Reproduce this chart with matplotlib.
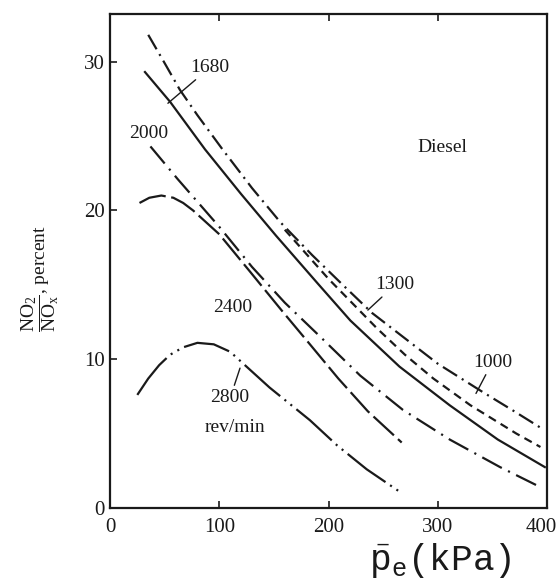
import matplotlib
matplotlib.use("Agg")
from matplotlib import pyplot as plt
from matplotlib import transforms

plt.rcParams['font.family'] = ['Liberation Serif', 'DejaVu Serif']
plt.rcParams['mathtext.fontset'] = 'custom'
plt.rcParams['mathtext.rm'] = 'Liberation Serif'
plt.rcParams['mathtext.tt'] = 'Liberation Mono'
plt.rcParams['lines.scale_dashes'] = False

# curves: load (kPa) vs NO2/NOx (percent)
x_1000 = [35, 50, 64, 80, 103, 130, 156, 185, 213, 240, 270, 300, 341, 370, 394]
y_1000 = [31.8, 29.9, 28.1, 26.4, 24.1, 21.5, 19.2, 17.0, 15.0, 13.1, 11.4, 9.7, 7.8, 6.5, 5.4]

x_1300 = [160, 200, 244, 270, 296, 330, 372, 394]
y_1300 = [18.7, 15.4, 12.1, 10.3, 8.7, 6.9, 5.0, 4.1]

x_1680 = [32, 55, 87, 120, 152, 190, 220, 265, 311, 355, 398]
y_1680 = [29.3, 27.3, 24.1, 21.1, 18.3, 15.1, 12.6, 9.5, 6.9, 4.6, 2.75]

x_2000 = [37, 62, 100, 130, 160, 194, 229, 268, 311, 357, 394]
y_2000 = [24.3, 22.1, 18.9, 16.2, 13.8, 11.4, 8.9, 6.6, 4.6, 2.75, 1.4]

x_2400 = [27, 36, 47, 58, 67, 76, 100, 128, 158, 183, 209, 236, 267]
y_2400 = [20.5, 20.85, 21.0, 20.85, 20.5, 20.0, 18.4, 15.9, 13.2, 11.0, 8.7, 6.5, 4.4]

x_2800 = [25, 35, 45, 55, 67, 80, 95, 110, 122, 146, 183, 208, 235, 267]
y_2800 = [7.6, 8.7, 9.6, 10.3, 10.8, 11.1, 11.0, 10.5, 9.7, 8.1, 5.9, 4.2, 2.6, 1.0]

# labels: text, text position, point the leader goes to (None = no leader)
labels = ['1680', '2000', '2400', '2800', 'rev/min', '1300', '1000', 'Diesel']
label_pos = [(91.5, 29.6), (35.7, 25.2), (112.6, 13.5), (110, 7.4),
             (114.4, 5.4), (261, 15.0), (350, 9.8), (304, 24.2)]
label_tip = [(53, 27.2), None, None, (119, 9.4), None, (236, 13.3), (335, 7.7), None]

ink = '#1a1a1a'

fig = plt.figure(figsize=(5.59, 5.88), dpi=100)
ax = fig.add_axes([110/559, 80/588, 437/559, 494/588])

ax.plot(x_1000, y_1000, color=ink, lw=1.6, dashes=(12, 4, 1.5, 4))
ax.plot(x_1300, y_1300, color=ink, lw=1.6, dashes=(6, 4))
ax.plot(x_1680, y_1680, color=ink, lw=1.6)
ax.plot(x_2000, y_2000, color=ink, lw=1.6, dashes=(16, 5, 1.5, 5))
ax.plot(x_2400, y_2400, color=ink, lw=1.6, dashes=(20, 4))
ax.plot(x_2800, y_2800, color=ink, lw=1.6, dashes=(34, 4, 1.5, 4, 1.5, 4))

for txt, pos, tip in zip(labels, label_pos, label_tip):
    if tip is None:
        ax.text(pos[0], pos[1], txt, fontsize=14, ha='center', va='center', color=ink)
    else:
        ax.annotate(txt, xy=tip, xytext=pos, fontsize=14, ha='center', va='center',
                    color=ink, arrowprops=dict(arrowstyle='-', color=ink, lw=1.0,
                                               shrinkA=1, shrinkB=0))

ax.set_xlim(0, 400)
ax.set_ylim(0, 33.2)
ax.set_xticks([0, 100, 200, 300, 400])
ax.set_yticks([0, 10, 20, 30])
ax.tick_params(direction='in', top=True, right=False, length=5, width=1.2,
               labelsize=15, colors=ink)
ax.tick_params(axis='x', pad=7)
ax.tick_params(axis='y', pad=4)
for sp in ax.spines.values():
    sp.set_linewidth(1.6)
    sp.set_color(ink)

# last x label sits at the figure edge, nudge it in a little
last = ax.get_xticklabels()[-1]
last.set_transform(last.get_transform() + transforms.ScaledTranslation(-6/100, 0, fig.dpi_scale_trans))

fig.text(40/559, 1 - 278/588, r'$\dfrac{\mathrm{NO_2}}{\mathrm{NO_x}}$, percent',
         rotation=90, ha='center', va='center', fontsize=14, color=ink)
fig.text(440/559, 1 - 560/588, r'$\bar{\mathtt{p}}_{\mathtt{e}}$(kPa)',
         family='Liberation Mono', ha='center', va='center', fontsize=26, color=ink)

fig.savefig('out.png', dpi=100)
